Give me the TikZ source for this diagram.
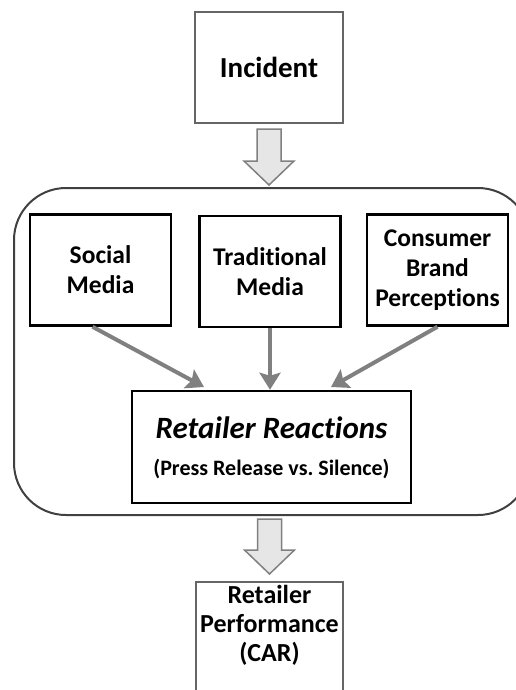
\documentclass[tikz,border=0pt]{standalone}
\usepackage{fontspec}
\setmainfont[Ligatures=NoCommon]{Carlito}
\usetikzlibrary{calc,arrows.meta}
\definecolor{boxgray}{HTML}{666666}
\definecolor{framegray}{HTML}{404040}
\definecolor{arrgray}{HTML}{808080}
\definecolor{fillgray}{HTML}{E6E6E6}
\tikzset{
  outerbox/.style={draw=boxgray, line width=2pt, minimum width=148pt, minimum height=111pt, align=center, inner sep=0pt, font=\bfseries\fontsize{29}{32}\selectfont},
  innerbox/.style={draw=black, line width=2.5pt, minimum width=141pt, minimum height=111pt, align=center, inner sep=0pt, font=\bfseries\fontsize{25.5}{30}\selectfont},
  blockarrow/.style={draw=arrgray, fill=fillgray, line width=1.5pt, line join=miter},
  flow/.style={draw=arrgray, line width=4pt, -{Stealth[length=17pt,width=21pt,inset=3pt]}},
  frame/.style={draw=framegray, line width=2pt, rounded corners=52pt}
}
\begin{document}
\begin{tikzpicture}[x=1pt,y=-1pt]
\useasboundingbox (0,0) rectangle (516,690);
\clip (0,0) rectangle (516,690);
% container
\draw[frame] (14,188) rectangle (530,515);
% nodes
\node[outerbox] (inc) at (269,67.5) {Incident};
\node[innerbox] (sm) at (100.5,270) {Social\\Media};
\node[innerbox] (tm) at (270,271.5) {Traditional\\Media};
\node[innerbox] (cb) at (437.5,270) {Consumer\\Brand\\Perceptions};
\node[draw=black, line width=2.5pt, minimum width=279pt, minimum height=112pt, inner sep=0pt] (rr) at (271.5,447) {};
\node[font=\bfseries\itshape\fontsize{31}{33}\selectfont] (rrt) at (271.5,428) {Retailer Reactions};
\node[font=\bfseries\fontsize{22}{24}\selectfont] (rrs) at (271.5,469) {(Press Release vs.\ Silence)};
\node[draw=boxgray, line width=2pt, minimum width=147pt, minimum height=140pt, inner sep=0pt, anchor=north] (rp) at (269.5,581) {};
\node[font=\bfseries\fontsize{26}{29}\selectfont, align=center] (rpt) at (269.5,625) {Retailer\\Performance\\(CAR)};
% block arrows
\draw[blockarrow] ($(inc.south)+(-12,5)$) -- ($(inc.south)+(12,5)$) -- ($(inc.south)+(12,37)$) -- ($(inc.south)+(25,37)$) -- ($(inc.south)+(0,61)$) -- ($(inc.south)+(-25,37)$) -- ($(inc.south)+(-12,37)$) -- cycle;
\draw[blockarrow] ($(rp.north)+(-12,-62)$) -- ($(rp.north)+(12,-62)$) -- ($(rp.north)+(12,-31)$) -- ($(rp.north)+(25,-31)$) -- ($(rp.north)+(0,-7)$) -- ($(rp.north)+(-25,-31)$) -- ($(rp.north)+(-12,-31)$) -- cycle;
% flow arrows
\coordinate (t1) at (204,387);
\coordinate (t3) at (331,387);
\draw[flow] ($(sm.south)+(-8,0)$) -- (t1);
\draw[flow] (tm.south) -- (tm.south |- rr.north);
\draw[flow] (cb.south) -- (t3);
\end{tikzpicture}
\end{document}
